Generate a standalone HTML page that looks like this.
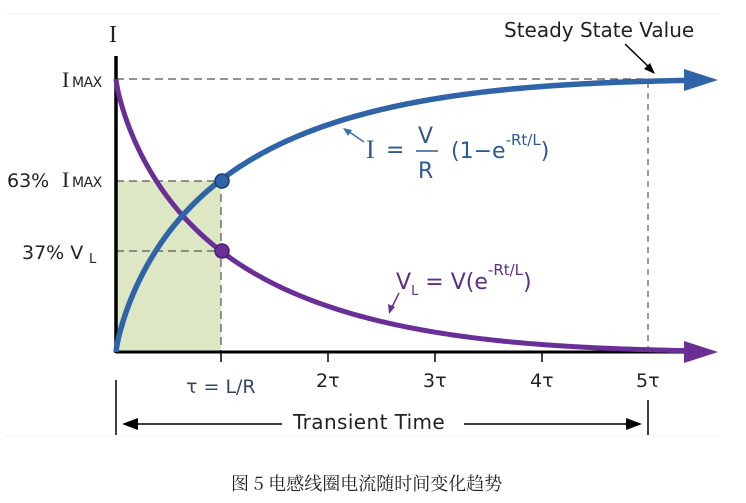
<!DOCTYPE html>
<html><head><meta charset="utf-8"><style>
body{margin:0;background:#fff;width:746px;height:503px;overflow:hidden}
svg{display:block}
.s{font-family:"DejaVu Sans","Liberation Sans",sans-serif}
.r{font-family:"Liberation Serif",serif}
</style></head><body>
<svg id="s" width="746" height="503" viewBox="0 0 746 503">
<line x1="5" y1="14" x2="720" y2="14" stroke="#f2f2f2"/>
<line x1="5" y1="436" x2="720" y2="436" stroke="#f2f2f2"/>
<rect x="116" y="181" width="105" height="171" fill="#dde7c4"/>
<g stroke="#555" stroke-width="1.2" stroke-dasharray="8,5" fill="none">
<line x1="116" y1="79" x2="650" y2="79"/>
<line x1="116" y1="181" x2="221" y2="181"/>
<line x1="116" y1="251" x2="221" y2="251"/>
<line x1="221" y1="181" x2="221" y2="352"/>
<line x1="648" y1="82" x2="648" y2="352" stroke-dasharray="6,5"/>
</g>
<line x1="116" y1="56" x2="116" y2="353" stroke="#000" stroke-width="3.5"/>
<line x1="116" y1="352" x2="690" y2="352" stroke="#000" stroke-width="3"/>
<g stroke="#000" stroke-width="1.5">
<line x1="221" y1="352" x2="221" y2="362"/><line x1="328" y1="352" x2="328" y2="362"/>
<line x1="435" y1="352" x2="435" y2="362"/><line x1="542" y1="352" x2="542" y2="362"/>
<line x1="116" y1="380" x2="116" y2="435"/><line x1="648" y1="400" x2="648" y2="435"/>
<line x1="130" y1="424" x2="282" y2="424"/><line x1="464" y1="424" x2="632" y2="424"/>
</g>
<polygon points="122,424 138,418 138,430" fill="#000"/>
<polygon points="642,424 626,418 626,430" fill="#000"/>
<path id="vp" d="" stroke="#6a2f96" stroke-width="5" fill="none"/>
<path id="ip" d="" stroke="#2f64a8" stroke-width="5.5" fill="none"/>
<polygon points="718,80 684,69 684,91" fill="#2f64a8"/>
<polygon points="718,352 684,341 684,363" fill="#6a2f96"/>
<circle cx="222" cy="181" r="7" fill="#2f64a8" stroke="#1d3f6e" stroke-width="1.5"/>
<circle cx="222" cy="251" r="7" fill="#6a2f96" stroke="#4a1f6e" stroke-width="1.5"/>
<line x1="364" y1="142" x2="348" y2="131" stroke="#3a70a8" stroke-width="1.5"/>
<polygon points="343,128 352,130 348,136" fill="#3a70a8"/>
<line x1="399" y1="293" x2="392" y2="307" stroke="#6a2f96" stroke-width="1.5"/>
<polygon points="389,314 388,304 395,307" fill="#6a2f96"/>
<line x1="625" y1="44" x2="652" y2="70" stroke="#000" stroke-width="1.5"/>
<polygon points="655,74 644,69 650,63" fill="#000"/>
<g font-size="19" fill="#222" class="s">
<text x="109" y="42" class="r" font-size="24">I</text>
<text x="62" y="87" class="r" font-size="22">I</text><text x="72" y="87" font-size="14" letter-spacing="-0.5">MAX</text>
<text x="7" y="187">63%</text><text x="62" y="187" class="r" font-size="22">I</text><text x="72" y="187" font-size="14" letter-spacing="-0.5">MAX</text>
<text x="22" y="259">37% V</text><text x="89" y="263" font-size="13">L</text>
<text x="504" y="37" font-size="20">Steady State Value</text>
<text x="186" y="393" fill="#33466a">τ = L/R</text>
<text x="316" y="387">2τ</text><text x="423" y="387">3τ</text><text x="530" y="387">4τ</text><text x="636" y="387">5τ</text>
<text x="293" y="429" font-size="20" letter-spacing="0.4">Transient Time</text>
</g>
<g fill="#2f5a90" font-size="22" class="s">
<text x="366" y="158" class="r" font-size="26">I</text>
<text x="386" y="157">=</text>
<text x="418" y="143">V</text><line x1="416" y1="151" x2="438" y2="151" stroke="#2f5a90" stroke-width="1.5"/>
<text x="418" y="178">R</text>
<text x="451" y="158">(1−e<tspan font-size="15" dy="-13">-Rt/L</tspan><tspan dy="13">)</tspan></text>
</g>
<g fill="#5a2f86" font-size="22" class="s">
<text x="396" y="289">V<tspan font-size="13" dy="6">L</tspan><tspan dy="-6"> = V(e</tspan><tspan font-size="15" dy="-14">-Rt/L</tspan><tspan dy="14">)</tspan></text>
</g>
<text x="231" y="490" font-size="18" fill="#222" style="font-family:'Noto Serif CJK SC','Liberation Serif',serif">图 5 电感线圈电流随时间变化趋势</text>
</svg>
<script>
var x0=116,y0=352,H=273,A=107,P=0.78,a="",b="";
var xs=[];for(var t=0;t<4;t+=0.25)xs.push(t);for(var t=4;t<=574;t+=3)xs.push(t);
xs.forEach(function(t,i){var u=t/A;var e=Math.exp(-(Math.pow(u,P)+0.0105*u*u*u));var X=(x0+t).toFixed(2);
a+=(i?"L":"M")+X+","+(y0-H*(1-e)).toFixed(2);b+=(i?"L":"M")+X+","+(y0-H*e).toFixed(2);});
document.getElementById("ip").setAttribute("d",a);
document.getElementById("vp").setAttribute("d",b);
</script>
</body></html>
